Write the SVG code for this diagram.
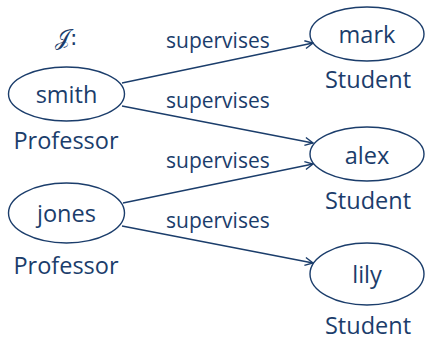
<svg xmlns="http://www.w3.org/2000/svg" width="425" height="337" viewBox="0 0 425 337">
<defs>
<style>
text{font-family:"Open Sans","Noto Sans",sans-serif;fill:#1b3d6b}
.n{font-size:23.5px;text-anchor:middle}
.e{font-size:21px}
ellipse{fill:none;stroke:#1b3d6b;stroke-width:1.4}
.c line{stroke:#1b3d6b;stroke-width:1.4}
</style>
<marker id="ah" viewBox="0 0 10 10" refX="9" refY="5" markerWidth="10" markerHeight="10" markerUnits="userSpaceOnUse" orient="auto">
<path d="M1,1 L9,5 L1,9" fill="none" stroke="#1b3d6b" stroke-width="1.4"/>
</marker>
</defs>
<rect width="425" height="337" fill="#fff"/>
<text x="55" y="45" style="font-family:'DejaVu Sans',sans-serif;font-size:22px">𝒥:</text>
<g class="c">
<line x1="122" y1="83" x2="313" y2="43" marker-end="url(#ah)"/>
<line x1="122" y1="106" x2="313" y2="143" marker-end="url(#ah)"/>
<line x1="123" y1="203" x2="313" y2="164" marker-end="url(#ah)"/>
<line x1="122" y1="226" x2="313" y2="263" marker-end="url(#ah)"/>
<text class="e" x="166" y="48">supervises</text>
<text class="e" x="166" y="108">supervises</text>
<text class="e" x="166" y="168">supervises</text>
<text class="e" x="166" y="228">supervises</text>
</g>
<g id="smith"><ellipse cx="66.5" cy="94" rx="58" ry="27"/><text class="n" x="66.5" y="103">smith</text><text class="n" x="66" y="149">Professor</text></g>
<g id="jones"><ellipse cx="66.5" cy="213" rx="58" ry="30"/><text class="n" x="66.5" y="222">jones</text><text class="n" x="66" y="274">Professor</text></g>
<g id="mark"><ellipse cx="367" cy="34" rx="57" ry="27"/><text class="n" x="367" y="43">mark</text><text class="n" x="368" y="88">Student</text></g>
<g id="alex"><ellipse cx="367" cy="154" rx="57" ry="27"/><text class="n" x="367" y="164">alex</text><text class="n" x="368" y="209">Student</text></g>
<g id="lily"><ellipse cx="367" cy="274" rx="57" ry="31"/><text class="n" x="367" y="283">lily</text><text class="n" x="368" y="334">Student</text></g>
</svg>
